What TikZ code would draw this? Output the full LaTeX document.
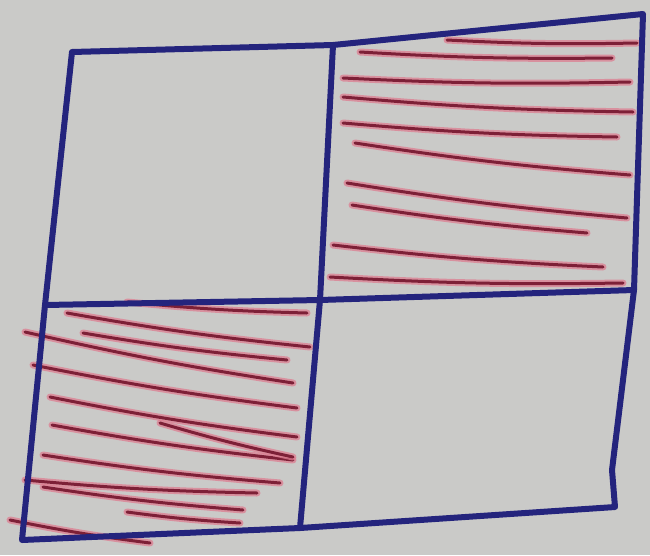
\documentclass[tikz,border=0pt]{standalone}
\definecolor{framecol}{RGB}{36,36,125}
\definecolor{glowcol}{RGB}{222,125,145}
\definecolor{corecol}{RGB}{125,32,55}
\definecolor{papercol}{RGB}{202,202,200}
\begin{document}
\begin{tikzpicture}[x=1pt,y=-1pt,
  frame/.style={draw=framecol,line width=6pt,line cap=round,line join=round},
  hglow/.style={draw=glowcol,line width=7pt,line cap=round,opacity=0.75},
  hcore/.style={draw=corecol,line width=3pt,line cap=round}]
\fill[papercol] (0,0) rectangle (650,555);
\useasboundingbox (0,0) rectangle (650,555);
% corners
\coordinate (TL) at (72,52);
\coordinate (TM) at (333,45);
\coordinate (TR) at (643,14);
\coordinate (MR) at (634,290);
\coordinate (BR) at (615,507);
\coordinate (BH) at (612,470);
\coordinate (BM) at (300,528);
\coordinate (BL) at (22,540);
\coordinate (ML) at (45,305);
\coordinate (C) at (320,300);
% hatching top-right
\foreach \a/\b in {{447,40}/{637,43},{360,52}/{612,58},{343,78}/{630,82},{343,97}/{633,112},{343,123}/{617,137},{355,143}/{630,175},{347,183}/{627,218},{352,205}/{587,233},{333,245}/{603,267},{330,277}/{623,283}}{
  \draw[hglow] (\a) to[bend right=2] (\b);
  \draw[hcore] (\a) to[bend right=2] (\b);
}
% hatching bottom-left
\foreach \a/\b in {{127,302}/{307,313},{67,313}/{310,347},{83,333}/{287,360},{25,332}/{293,383},{33,365}/{297,408},{50,397}/{297,437},{52,425}/{293,460},{160,423}/{293,457},{43,455}/{280,483},{25,480}/{257,493},{43,487}/{243,510},{127,512}/{240,523},{10,520}/{150,543}}{
  \draw[hglow] (\a) to[bend right=2] (\b);
  \draw[hcore] (\a) to[bend right=2] (\b);
}
% frame
\draw[frame] (TM) -- (TL) -- (ML) -- (BL) -- (BM) -- (BR) -- (BH) -- (MR) -- (TR) -- cycle;
\draw[frame] (TM) -- (C) -- (BM);
\draw[frame] (ML) -- (C) -- (MR);
\end{tikzpicture}
\end{document}
